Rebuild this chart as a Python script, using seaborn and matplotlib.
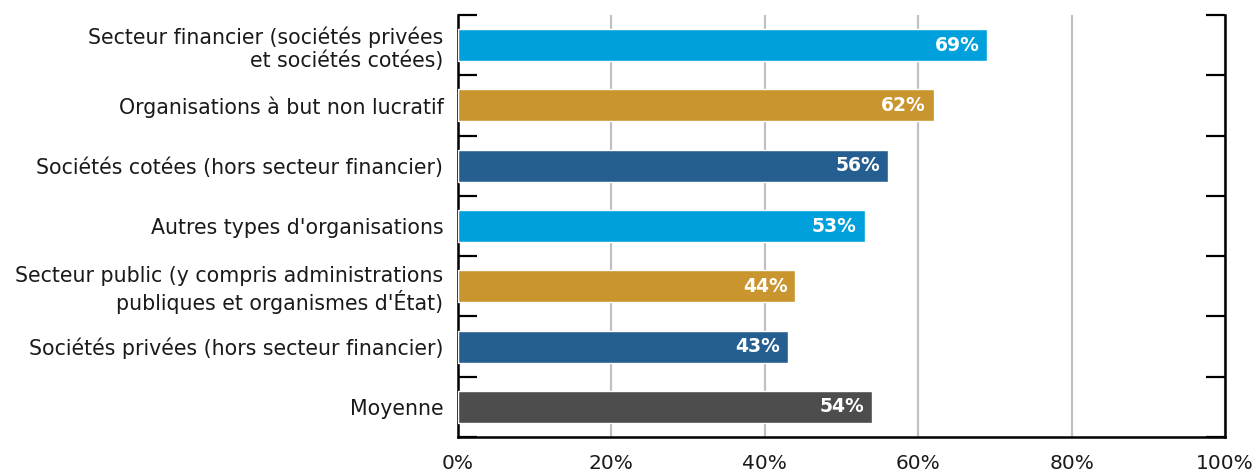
import matplotlib
matplotlib.use("Agg")
import matplotlib.pyplot as plt
import seaborn as sns
import pandas as pd
from matplotlib.ticker import FixedLocator, PercentFormatter

categories = [
    "Secteur financier (sociétés privées\net sociétés cotées)",
    "Organisations à but non lucratif",
    "Sociétés cotées (hors secteur financier)",
    "Autres types d'organisations",
    "Secteur public (y compris administrations\npubliques et organismes d'État)",
    "Sociétés privées (hors secteur financier)",
    "Moyenne",
]
values = [69, 62, 56, 53, 44, 43, 54]
colors = ["#00a0dc", "#c9952e", "#255f91", "#00a0dc", "#c9952e", "#255f91", "#4d4d4e"]
xticks = [0, 20, 40, 60, 80, 100]

sns.set_theme(style="white")
plt.rcParams["font.family"] = ["DejaVu Sans"]

df = pd.DataFrame({"cat": categories, "val": values})

fig = plt.figure(figsize=(12.54, 4.72), dpi=100)
ax = fig.add_axes([458 / 1254, 1 - 437 / 472, (1225 - 458) / 1254, (437 - 15) / 472])

sns.barplot(data=df, y="cat", x="val", hue="cat", palette=colors, dodge=False,
            legend=False, orient="h", width=0.53, saturation=1, ax=ax, zorder=3)

ax.set_xlim(0, 100)
ax.set_ylim(len(categories) - 0.5, -0.5)
ax.set_xticks(xticks)
ax.xaxis.set_major_formatter(PercentFormatter(decimals=0))
ax.grid(axis="x", color="#c0c0c0", linewidth=1.6, zorder=0)
ax.set_axisbelow(True)

ax.set_xlabel("")
ax.set_ylabel("")
ax.tick_params(axis="x", length=0, pad=12, labelsize=14.5, colors="#1a1a1a")
ax.tick_params(axis="y", which="major", length=0, pad=10.5, labelsize=14.8, colors="#1a1a1a")
ax.yaxis.set_minor_locator(FixedLocator([i - 0.5 for i in range(len(categories) + 1)]))
ax.tick_params(axis="y", which="minor", direction="in", length=14, width=1.6,
               left=True, right=True, color="black")

for s in ["left", "right", "bottom"]:
    ax.spines[s].set_visible(True)
    ax.spines[s].set_color("black")
    ax.spines[s].set_linewidth(1.8)
ax.spines["top"].set_visible(False)

for i, v in enumerate(values):
    ax.text(v - 1.0, i, f"{v}%", ha="right", va="center", color="white",
            fontsize=13.5, fontweight="bold", zorder=5)

fig.savefig("out.png", dpi=100)
